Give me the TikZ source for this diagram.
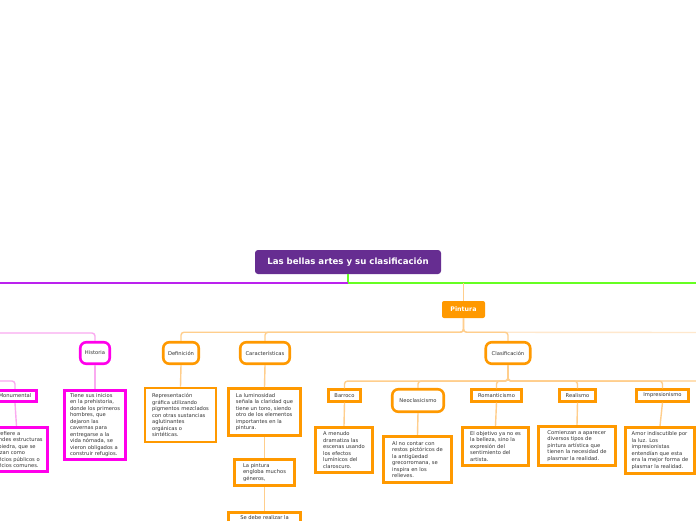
\documentclass[tikz,border=0pt]{standalone}
\usepackage{fontspec}
\setmainfont{DejaVu Sans}
\usetikzlibrary{positioning}

\definecolor{morado}{RGB}{102,45,145}
\definecolor{lila}{RGB}{187,34,238}
\definecolor{verde}{RGB}{102,255,34}
\definecolor{naranja}{RGB}{255,153,0}
\definecolor{naranjaclaro}{RGB}{255,206,140}
\definecolor{naranjatenue}{RGB}{255,232,205}
\definecolor{fucsia}{RGB}{255,0,235}
\definecolor{rosaclaro}{RGB}{250,170,240}
\definecolor{gris}{RGB}{51,51,51}

\newcommand{\letrachica}{\fontsize{5.2}{6.5}\selectfont}

\begin{document}
\begin{tikzpicture}[
        x=1pt, y=-1pt,
        font=\letrachica, text=gris,
        tema/.style={fill=morado, rounded corners=3pt, text=white,
                     font=\fontsize{8.6}{10}\selectfont\bfseries,
                     minimum width=186pt, minimum height=24pt},
        rama/.style={fill=naranja, rounded corners=2pt, text=white,
                     font=\fontsize{6.3}{7}\selectfont\bfseries,
                     minimum width=43pt, minimum height=17pt},
        capsula/.style={draw=naranja, fill=white, line width=2.6pt,
                        rounded corners=6pt, minimum height=21.5pt, inner sep=1pt},
        etiqueta/.style={draw=naranja, fill=white, line width=2.6pt,
                         minimum height=11.5pt, inner sep=1pt},
        texto/.style={draw=naranja, fill=white, line width=2.6pt,
                      align=left, inner sep=3pt},
        rosa/.style={draw=fucsia},
        linea/.style={line width=2pt},
        conexion/.style={draw=naranjaclaro, line width=1.4pt, rounded corners=3pt},
        conexionrosa/.style={conexion, draw=rosaclaro}
    ]

    \fill[white] (0,0) rectangle (696,520);
    \useasboundingbox (0,0) rectangle (696,520);

    % Tema central
    \node[tema] (titulo) at (348,262) {Las bellas artes y su clasificación};
    \coordinate (izq) at (0,283);
    \coordinate (der) at (696,283);
    \draw[linea, verde] (titulo.south) |- (der);
    \draw[linea, lila] (titulo.south |- izq) -- (izq);

    % --- Pintura ---
    \node[rama] (pintura) at (463.5,309.5) {Pintura};
    \coordinate (enlace) at (463.5,283);
    \draw[conexion] (enlace) -- (pintura.north);

    \node[capsula, minimum width=35.5pt]  (definicion)      at (181,353) {Definición};
    \node[capsula, minimum width=49.5pt]  (caracteristicas) at (265,353) {Características};
    \node[capsula, minimum width=44.5pt]  (clasificacion)   at (508,353) {Clasificación};
    \coordinate (fueraA) at (696,332.5);
    \draw[conexion, draw=naranjatenue] (pintura.south) -- ++(0,14) -- (fueraA);
    \draw[conexion] (pintura.south) -- ++(0,14) -| (definicion.north);
    \draw[conexion] (pintura.south) -- ++(0,14) -| (caracteristicas.north);
    \draw[conexion] (pintura.south) -- ++(0,14) -| (clasificacion.north);

    % --- Historia y Monumental (rama izquierda) ---
    \node[capsula, rosa, minimum width=29.5pt] (historia) at (95,353) {Historia};
    \node[etiqueta, rosa, minimum width=43pt] (monumental) at (15,396) {Monumental};
    \coordinate (rosaA) at (0,333);
    \coordinate (rosaB) at (0,381);
    \draw[conexionrosa] (rosaA) -| (historia.north);
    \draw[conexionrosa] (rosaB) -| (monumental.north);

    \node[texto, rosa, minimum width=61.5pt, minimum height=69.5pt] (historiaTexto) at (95,425)
        {Tiene sus inicios\\ en la prehistoria,\\ donde los primeros\\ hombres, que\\ dejaron las\\
         cavernas para\\ entregarse a la\\ vida nómada, se\\ vieron obligados a\\ construir refugios.};
    \node[texto, rosa, minimum width=62.5pt, minimum height=44.5pt] (monumentalTexto) at (16.5,449.5)
        {Se refiere a\\ grandes estructuras\\ de piedra, que se\\ utilizan como\\ edificios públicos o\\ edificios comunes.};
    \draw[conexionrosa] (historia.south) -- (historiaTexto.north);
    \draw[conexionrosa] (monumental.south) -- (monumentalTexto.north);

    % --- Definición ---
    \node[texto, minimum width=71pt, minimum height=54pt] (definicionTexto) at (180.5,415)
        {Representación\\ gráfica utilizando\\ pigmentos mezclados\\ con otras sustancias\\
         aglutinantes\\ orgánicas o\\ sintéticas.};
    \draw[conexion] (definicion.south) -- (definicionTexto.north);

    % --- Características ---
    \node[texto, minimum width=72pt, minimum height=47pt] (luminosidad) at (264.5,412)
        {La luminosidad\\ señala la claridad que\\ tiene un tono, siendo\\ otro de los elementos\\
         importantes en la\\ pintura.};
    \node[texto, minimum width=60pt, minimum height=26pt] (generos) at (264.5,472.5)
        {La pintura\\ engloba muchos\\ géneros,};
    \node[texto, minimum width=72pt, text depth=30pt, anchor=north] (realizar) at (264.5,511.3)
        {Se debe realizar la};
    \draw[conexion] (caracteristicas.south) -- (luminosidad.north);
    \draw[conexion] (luminosidad.south) -- (generos.north);
    \draw[conexion] (generos.south) -- (realizar.north);

    % --- Clasificación ---
    \node[etiqueta, minimum width=32.5pt] (barroco)       at (344.5,395.5) {Barroco};
    \node[capsula,  minimum width=51.5pt, minimum height=22.5pt] (neoclasicismo) at (418,400.5) {Neoclasicismo};
    \node[etiqueta, minimum width=50.5pt] (romanticismo)  at (496.5,395.5) {Romanticismo};
    \node[etiqueta, minimum width=36.5pt] (realismo)      at (577.5,395.5) {Realismo};
    \node[etiqueta, minimum width=52.5pt] (impresionismo) at (662.5,395.5) {Impresionismo};
    \coordinate (fueraB) at (696,381);
    \draw[conexion] (clasificacion.south) -- ++(0,16) -- (fueraB);
    \draw[conexion] (clasificacion.south) -- ++(0,16) -| (barroco.north);
    \draw[conexion] (clasificacion.south) -- ++(0,16) -| (neoclasicismo.north);
    \draw[conexion] (clasificacion.south) -- ++(0,16) -| (romanticismo.north);
    \draw[conexion] (clasificacion.south) -- ++(0,16) -| (realismo.north);
    \draw[conexion] (clasificacion.south) -- ++(0,16) -| (impresionismo.north);

    \node[texto, minimum width=57.5pt, minimum height=45.5pt] (barrocoTexto) at (344,450)
        {A menudo\\ dramatiza las\\ escenas usando\\ los efectos\\ lumínicos del\\ claroscuro.};
    \node[texto, minimum width=68.5pt, minimum height=46.5pt] (neoclasicismoTexto) at (417.5,459.5)
        {Al no contar con\\ restos pictóricos de\\ la antigüedad\\ grecorromana, se\\ inspira en los\\ relieves.};
    \node[texto, minimum width=66.5pt, minimum height=38.5pt] (romanticismoTexto) at (495.5,446.5)
        {El objetivo ya no es\\ la belleza, sino la\\ expresión del\\ sentimiento del\\ artista.};
    \node[texto, minimum width=77.5pt, minimum height=39.5pt] (realismoTexto) at (577,446)
        {Comienzan a aparecer\\ diversos tipos de\\ pintura artística que\\ tienen la necesidad de\\
         plasmar la realidad.};
    \node[texto, minimum width=69.5pt, minimum height=46.5pt] (impresionismoTexto) at (660,450.5)
        {Amor indiscutible por\\ la luz. Los\\ impresionistas\\ entendían que esta\\
         era la mejor forma de\\ plasmar la realidad.};
    \draw[conexion] (barroco.south) -- (barrocoTexto.north);
    \draw[conexion] (neoclasicismo.south) -- (neoclasicismoTexto.north);
    \draw[conexion] (romanticismo.south) -- (romanticismoTexto.north);
    \draw[conexion] (realismo.south) -- (realismoTexto.north);
    \draw[conexion] (impresionismo.south) -- (impresionismoTexto.north);

\end{tikzpicture}
\end{document}
